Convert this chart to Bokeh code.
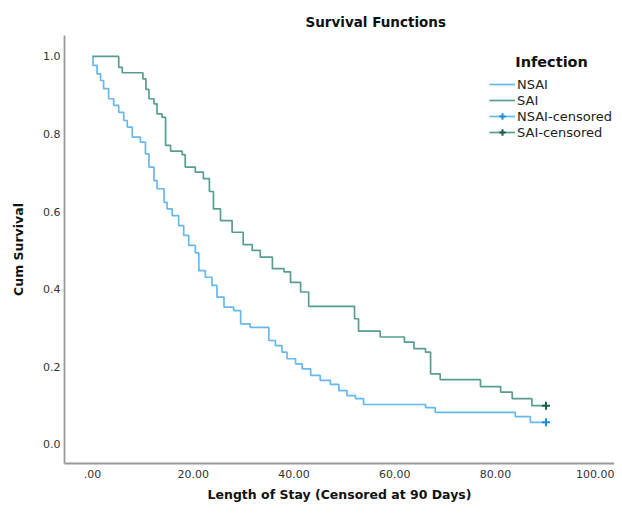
from bokeh.plotting import figure
from bokeh.models import ColumnDataSource, FixedTicker, Legend, LegendItem, Label, Range1d
from bokeh.embed import file_html
from bokeh.resources import INLINE

# ---- data (Kaplan-Meier steps) ----
nsai_time = [0, 0.1, 0.9, 1.6, 2.2, 3.2, 4.2, 5.2, 6.2, 6.9, 7.9, 9.5, 10.5, 11.2, 12.2, 12.8,
             14.2, 14.8, 15.8, 17.1, 18.1, 19.1, 20.4, 21.1, 22.4, 23.7, 24.7, 26.1, 28.0,
             29.4, 31.3, 35.0, 36.3, 37.6, 38.6, 40.3, 41.6, 43.3, 45.2, 47.2, 48.9, 50.5,
             52.2, 53.8, 66.1, 68.0, 83.9, 86.9]
nsai_surv = [1.0, 0.977, 0.955, 0.938, 0.917, 0.891, 0.874, 0.856, 0.835, 0.818, 0.792, 0.779,
             0.749, 0.715, 0.680, 0.659, 0.624, 0.607, 0.590, 0.564, 0.539, 0.513, 0.494,
             0.448, 0.431, 0.410, 0.380, 0.354, 0.345, 0.311, 0.302, 0.268, 0.255, 0.238,
             0.221, 0.208, 0.195, 0.178, 0.165, 0.155, 0.139, 0.126, 0.118, 0.103, 0.095,
             0.083, 0.072, 0.057]
sai_time = [0, 5.2, 5.9, 10.0, 10.6, 11.2, 12.2, 12.8, 13.8, 14.5, 15.5, 17.8, 18.4, 20.4,
            22.0, 23.2, 24.0, 25.4, 27.7, 29.9, 31.7, 33.3, 35.7, 38.0, 39.3, 41.3, 42.9,
            52.0, 52.8, 57.1, 61.9, 63.8, 66.1, 67.1, 69.0, 77.0, 81.0, 83.3, 87.2]
sai_surv = [1.0, 0.972, 0.958, 0.942, 0.915, 0.891, 0.878, 0.852, 0.843, 0.771, 0.756, 0.747,
            0.715, 0.702, 0.685, 0.652, 0.607, 0.577, 0.547, 0.515, 0.500, 0.483, 0.453,
            0.445, 0.418, 0.393, 0.356, 0.324, 0.292, 0.277, 0.264, 0.247, 0.238, 0.182,
            0.167, 0.149, 0.135, 0.118, 0.100]
censor_time = 90
x_ticks = [0, 20, 40, 60, 80, 100]
x_tick_labels = [".00", "20.00", "40.00", "60.00", "80.00", "100.00"]
y_ticks = [0.0, 0.2, 0.4, 0.6, 0.8, 1.0]
y_tick_labels = ["0.0", "0.2", "0.4", "0.6", "0.8", "1.0"]
groups = ["NSAI", "SAI"]

NSAI_COLOR = "#66b8ee"
SAI_COLOR = "#569e8f"
NSAI_CENS = "#1b8de2"
SAI_CENS = "#1d5d4e"
FONT = "DejaVu Sans"

p = figure(width=614, height=507, output_backend="svg", toolbar_location=None,
           x_range=Range1d(-5.56, 103.6), y_range=Range1d(-0.049, 1.054),
           min_border_left=64, min_border_right=0, min_border_top=35, min_border_bottom=44)
p.outline_line_color = None
p.xgrid.visible = False
p.ygrid.visible = False

p.title.text = "Survival Functions"
p.title.align = "left"
p.title.offset = 241
p.title.text_font = FONT
p.title.text_font_size = "13.5px"
p.title.text_font_style = "bold"
p.title.text_color = "#111111"
p.title.standoff = 12

src_n = ColumnDataSource(dict(t=nsai_time + [censor_time], s=nsai_surv + [nsai_surv[-1]]))
src_s = ColumnDataSource(dict(t=sai_time + [censor_time], s=sai_surv + [sai_surv[-1]]))

r_n = p.step("t", "s", source=src_n, mode="after", line_color=NSAI_COLOR, line_width=1.7)
r_s = p.step("t", "s", source=src_s, mode="after", line_color=SAI_COLOR, line_width=1.7)

cn = ColumnDataSource(dict(t=[censor_time], s=[nsai_surv[-1]]))
cs = ColumnDataSource(dict(t=[censor_time], s=[sai_surv[-1]]))
r_cn = p.scatter("t", "s", source=cn, marker="cross", size=8, line_width=2, line_color=NSAI_CENS)
r_cs = p.scatter("t", "s", source=cs, marker="cross", size=8, line_width=2, line_color=SAI_CENS)
# single-point lines: invisible on the plot, give the legend its "-+-" look
l_cn = p.line("t", "s", source=cn, line_color=NSAI_COLOR, line_width=1.7)
l_cs = p.line("t", "s", source=cs, line_color=SAI_COLOR, line_width=1.7)

for ax in (p.xaxis[0], p.yaxis[0]):
    ax.axis_line_color = "#9a9a9a"
    ax.axis_line_width = 1.8
    ax.major_tick_in = 0
    ax.major_tick_out = 0
    ax.minor_tick_in = 0
    ax.minor_tick_out = 0
    ax.major_label_text_font = FONT
    ax.major_label_text_font_size = "11px"
    ax.major_label_text_color = "#333333"
    ax.axis_label_text_font = FONT
    ax.axis_label_text_font_size = "12.5px"
    ax.axis_label_text_font_style = "bold"
    ax.axis_label_text_color = "#111111"

p.xaxis.ticker = FixedTicker(ticks=x_ticks)
p.xaxis.major_label_overrides = {t: l for t, l in zip(x_ticks, x_tick_labels)}
p.yaxis.ticker = FixedTicker(ticks=y_ticks)
p.yaxis.major_label_overrides = {t: l for t, l in zip(y_ticks, y_tick_labels)}
p.xaxis.axis_label = "Length of Stay (Censored at 90 Days)"
p.yaxis.axis_label = "Cum Survival"
p.xaxis.major_label_standoff = 6
p.xaxis.axis_label_standoff = 6
p.yaxis.major_label_standoff = 4
p.yaxis.axis_label_standoff = 14

legend = Legend(items=[
    LegendItem(label=groups[0], renderers=[r_n]),
    LegendItem(label=groups[1], renderers=[r_s]),
    LegendItem(label=groups[0] + "-censored", renderers=[l_cn, r_cn]),
    LegendItem(label=groups[1] + "-censored", renderers=[l_cs, r_cs]),
], location=(425, 323), orientation="vertical")
legend.background_fill_alpha = 0
legend.border_line_color = None
legend.padding = 0
legend.margin = 0
legend.spacing = 0
legend.glyph_width = 26
legend.glyph_height = 16
legend.label_height = 16
legend.label_standoff = 2
legend.label_text_font = FONT
legend.label_text_font_size = "13px"
legend.label_text_color = "#222222"
p.add_layout(legend, "center")

p.add_layout(Label(x=83.9, y=0.985, text="Infection", text_font=FONT, text_font_size="14.5px",
                   text_font_style="bold", text_color="#111111", text_baseline="middle",
                   text_align="left"))

open("out.html", "w").write(file_html(p, INLINE))
